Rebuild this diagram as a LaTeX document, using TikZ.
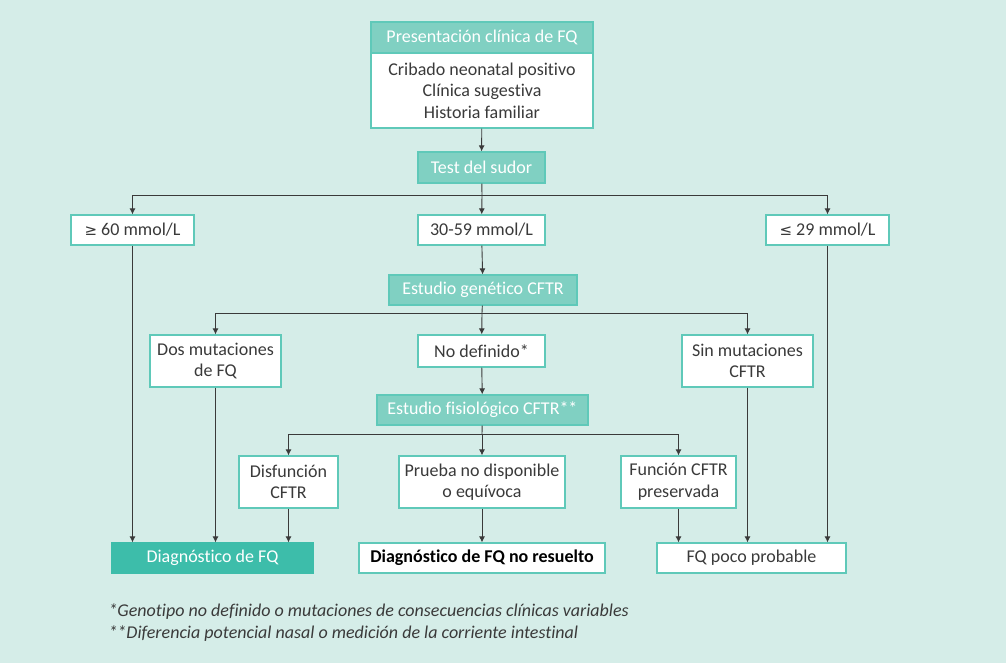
\documentclass[tikz,border=0pt]{standalone}
\usepackage{fontspec}
\setmainfont{Carlito}[RawFeature=-liga]
\newfontfamily\symfont{DejaVu Sans}
\usetikzlibrary{arrows.meta}

\definecolor{bgmint}{HTML}{D5EDE8}
\definecolor{hdrteal}{HTML}{80D0C2}
\definecolor{darkteal}{HTML}{3DBDAA}
\definecolor{rimteal}{HTML}{5FC9B9}
\definecolor{txtgray}{HTML}{3A3A3A}
\definecolor{lingray}{HTML}{3A3A3A}

\begin{document}
\begin{tikzpicture}[x=1pt,y=-1pt,>={Latex[length=6pt,width=6pt]},
  conn/.style={draw=lingray,line width=0.9pt},
  box/.style={draw=rimteal,line width=1.2pt,fill=white,text=txtgray,align=center,
    inner sep=0pt,font=\fontsize{18}{21.5}\selectfont},
  hdr/.style={box,fill=hdrteal,text=white},
  foot/.style={anchor=west,text=txtgray,font=\fontsize{18}{22}\selectfont\itshape}]

  \fill[bgmint] (0,0) rectangle (1006,663);
  \useasboundingbox (0,0) rectangle (1006,663);

  % entrada
  \node[box,minimum width=222pt,minimum height=75pt] (body) at (482,90.5)
    {Cribado neonatal positivo\\Clínica sugestiva\\Historia familiar};
  \node[hdr,minimum width=222pt,minimum height=31pt] (pres) at (482,37.5) {Presentación clínica de FQ};
  \node[hdr,minimum width=127pt,minimum height=31pt] (test) at (481.5,167.5) {Test del sudor};

  % valores del test
  \node[box,minimum width=123pt,minimum height=30pt] (high) at (132.5,230) {{\symfont\fontsize{15}{17}\selectfont ≥} 60 mmol/L};
  \node[box,minimum width=127pt,minimum height=30pt] (mid) at (481.5,230) {30-59 mmol/L};
  \node[box,minimum width=123pt,minimum height=30pt] (low) at (827.5,230) {{\symfont\fontsize{15}{17}\selectfont ≤} 29 mmol/L};

  % genetica
  \node[hdr,minimum width=188pt,minimum height=30pt] (gen) at (483,290) {Estudio genético CFTR};
  \node[box,minimum width=131pt,minimum height=52pt] (dos) at (215.5,361) {Dos mutaciones\\de FQ};
  \node[box,minimum width=127pt,minimum height=32pt] (nodef) at (481.5,351) {No definido*};
  \node[box,minimum width=131pt,minimum height=52pt] (sin) at (747.5,361) {Sin mutaciones\\CFTR};

  % fisiologia
  \node[hdr,minimum width=211pt,minimum height=30pt] (fis) at (482.5,410) {Estudio fisiológico CFTR**};
  \node[box,minimum width=99pt,minimum height=52pt] (disf) at (288.5,482) {Disfunción\\CFTR};
  \node[box,minimum width=166pt,minimum height=52pt] (prueba) at (482,482) {Prueba no disponible\\o equívoca};
  \node[box,minimum width=115pt,minimum height=52pt] (func) at (678.5,482) {Función CFTR\\preservada};

  % resultados
  \node[box,fill=darkteal,draw=darkteal,text=white,minimum width=201pt,minimum height=30pt] (dx) at (212.5,558) {Diagnóstico de FQ};
  \node[box,minimum width=246pt,minimum height=30pt,font=\fontsize{18}{21.5}\selectfont\bfseries,text=black] (unres) at (482,558) {Diagnóstico de FQ no resuelto};
  \node[box,minimum width=189pt,minimum height=30pt] (unlikely) at (751.5,558) {FQ poco probable};

  \node[foot] (fn1) at (105,612) {*Genotipo no definido o mutaciones de consecuencias clínicas variables};
  \node[foot] (fn2) at (105,634) {**Diferencia potencial nasal o medición de la corriente intestinal};

  \coordinate (s1) at (482,195);
  \coordinate (s2) at (482,313);
  \coordinate (s3) at (482,434);

  \draw[conn,->] (body) -- (test);
  \draw[conn] (test) -- (s1);
  \draw[conn,->] (s1) -| (high);
  \draw[conn,->] (s1) -| (low);
  \draw[conn,->] (s1) -- (mid);
  \draw[conn,->] (mid) -- (gen);
  \draw[conn] (gen) -- (s2);
  \draw[conn,->] (s2) -| (dos);
  \draw[conn,->] (s2) -| (sin);
  \draw[conn,->] (s2) -- (nodef);
  \draw[conn,->] (nodef) -- (fis);
  \draw[conn] (fis) -- (s3);
  \draw[conn,->] (s3) -| (disf);
  \draw[conn,->] (s3) -| (func);
  \draw[conn,->] (s3) -- (prueba);

  \draw[conn,->] (high) -- (high |- dx.north);
  \draw[conn,->] (dos) -- (dos |- dx.north);
  \draw[conn,->] (disf) -- (disf |- dx.north);
  \draw[conn,->] (prueba) -- (unres);
  \draw[conn,->] (func) -- (func |- unlikely.north);
  \draw[conn,->] (sin) -- (sin |- unlikely.north);
  \draw[conn,->] (low) -- (low |- unlikely.north);
\end{tikzpicture}
\end{document}
